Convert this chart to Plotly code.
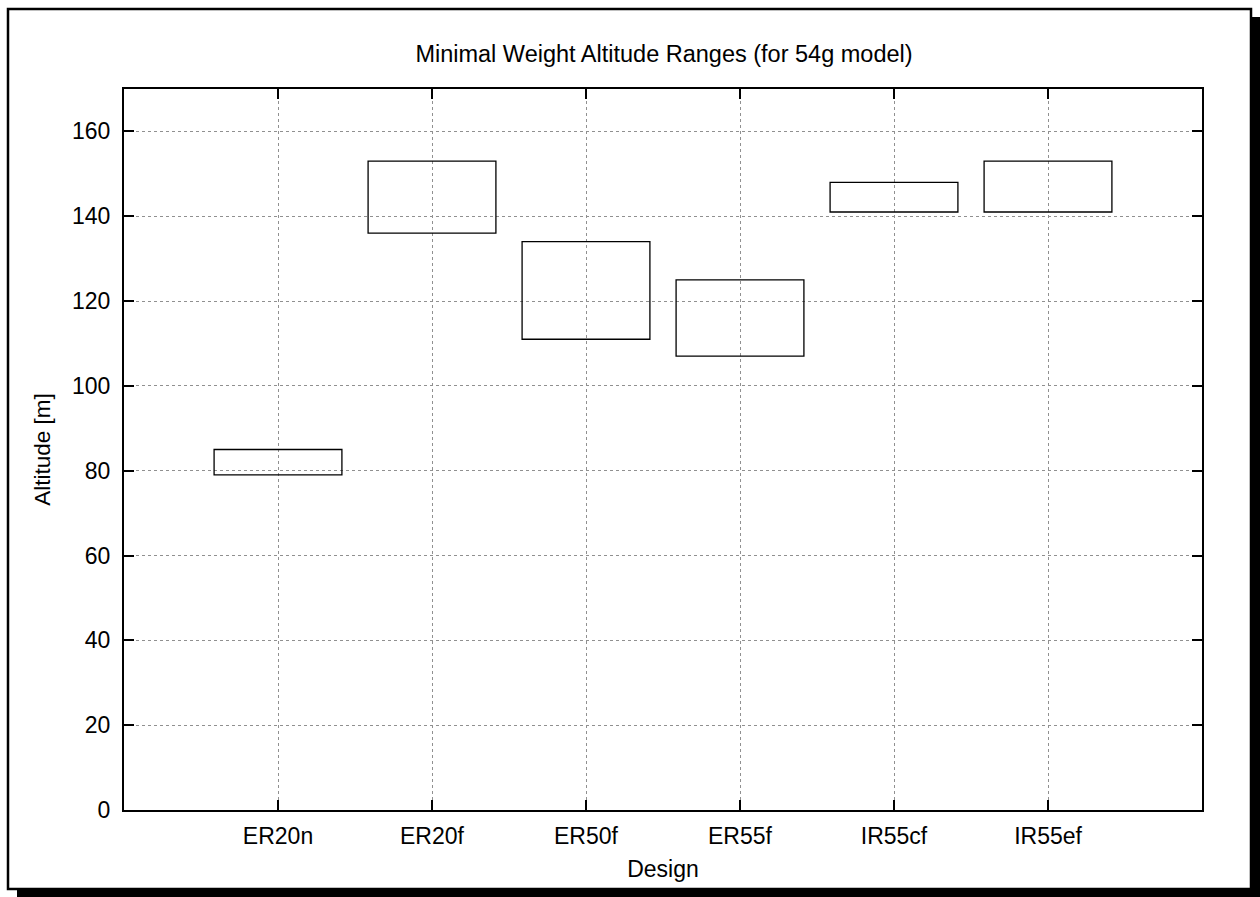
import plotly.graph_objects as go

designs = ["ER20n", "ER20f", "ER50f", "ER55f", "IR55cf", "IR55ef"]
alt_low = [79, 136, 111, 107, 141, 141]
alt_high = [85, 153, 134, 125, 148, 153]
y_ticks = [0, 20, 40, 60, 80, 100, 120, 140, 160]

W, H = 1260, 897
L, R, T, B = 124, 58, 89, 87
pw, ph = W - L - R, H - T - B


def px(x):
    return (x - L) / pw


def py(y):
    return (H - B - y) / ph


fig = go.Figure()
fig.add_trace(go.Bar(
    x=designs,
    base=alt_low,
    y=[h - l for h, l in zip(alt_high, alt_low)],
    width=0.83,
    marker=dict(color="rgba(0,0,0,0)", line=dict(color="black", width=1.3)),
    showlegend=False,
    hoverinfo="skip",
))

font = "Liberation Sans, Arial, Helvetica, sans-serif"

fig.update_layout(
    width=W, height=H,
    margin=dict(l=L, r=R, t=T, b=B),
    paper_bgcolor="white",
    plot_bgcolor="rgba(0,0,0,0)",
    font=dict(family=font, size=23, color="black"),
    title=dict(text="Minimal Weight Altitude Ranges (for 54g model)",
               x=px(664), xref="paper", xanchor="center",
               y=1 - 54 / H, yref="container", yanchor="middle",
               font=dict(size=23.5)),
    xaxis=dict(
        type="category", range=[-1, 6],
        showline=True, linecolor="black", linewidth=2, mirror="ticks",
        ticks="inside", ticklen=10, tickwidth=1.5, tickcolor="black",
        showgrid=True, gridcolor="#909090", gridwidth=1, griddash="dot",
        ticklabelstandoff=4, tickfont=dict(size=23),
        title=dict(text="Design", standoff=13, font=dict(size=23)),
    ),
    yaxis=dict(
        range=[0, 170], tickvals=y_ticks,
        showline=True, linecolor="black", linewidth=2, mirror="ticks",
        ticks="inside", ticklen=10, tickwidth=1.5, tickcolor="black",
        showgrid=True, gridcolor="#909090", gridwidth=1, griddash="dot",
        zeroline=False,
        ticklabelstandoff=7, tickfont=dict(size=23),
        title=dict(text="Altitude [m]", standoff=15, font=dict(size=22.5)),
    ),
    shapes=[
        dict(type="rect", xref="paper", yref="paper", layer="below",
             x0=px(1248), x1=px(1300), y0=py(940), y1=py(17),
             fillcolor="black", line=dict(width=0)),
        dict(type="rect", xref="paper", yref="paper", layer="below",
             x0=px(17), x1=px(1300), y0=py(940), y1=py(886),
             fillcolor="black", line=dict(width=0)),
        dict(type="rect", xref="paper", yref="paper", layer="below",
             x0=px(8), x1=px(1251), y0=py(889), y1=py(9),
             fillcolor="white", line=dict(color="black", width=2.5)),
    ],
)

fig.write_html("out.html",
               config={"displayModeBar": False},
               post_script="document.body.style.margin='0';document.body.style.overflow='hidden';")
